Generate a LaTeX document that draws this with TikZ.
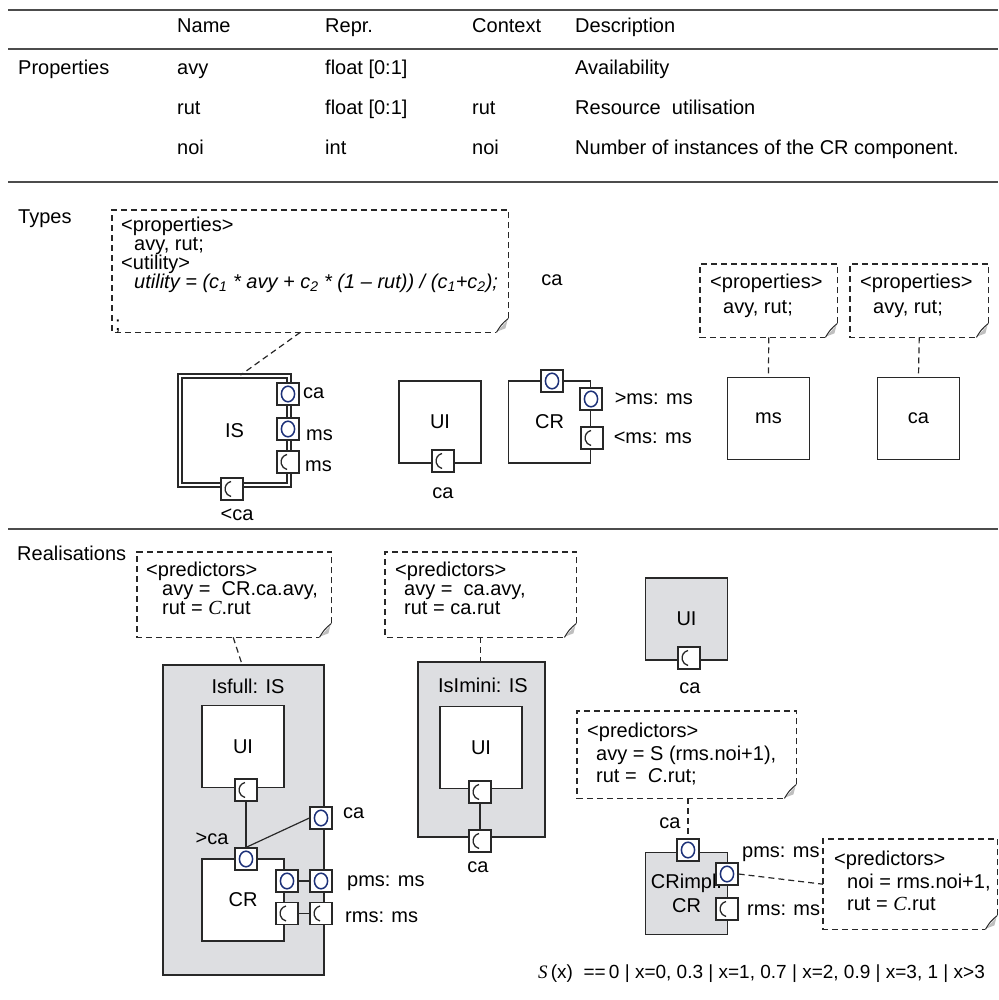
\documentclass[tikz,border=0pt]{standalone}
\usepackage{fontspec}
\setmainfont{Liberation Sans}
\newfontfamily\timesfont{Liberation Serif}
\usetikzlibrary{positioning}
\definecolor{portblue}{RGB}{28,48,120}
\definecolor{realgray}{RGB}{221,222,225}
\definecolor{linegray}{RGB}{40,40,40}
\tikzstyle{comp} = [draw=linegray, line width=1.4pt, fill=white, minimum width=82pt, minimum height=82pt, inner sep=0pt]
\tikzstyle{realcomp} = [comp, fill=realgray]
\tikzstyle{port} = [draw=linegray, line width=1.2pt, fill=white, minimum size=22pt, inner sep=0pt]
\tikzstyle{prov} = [port, path picture={\draw[portblue, line width=1.5pt] (path picture bounding box.center) ellipse (6.6pt and 7.8pt);}]
\tikzstyle{req} = [port, path picture={\draw[line width=1.3pt] ([shift={(-1pt,7.5pt)}]path picture bounding box.center) arc[start angle=103, end angle=257, radius=7.7pt];}]
\tikzstyle{link} = [draw=linegray, line width=1.2pt, dash pattern=on 6pt off 4pt]
\tikzstyle{wire} = [draw=linegray, line width=1.2pt]
\tikzstyle{tablerule} = [draw=black!70, line width=2pt]
\tikzstyle{notearea} = [inner sep=0pt, anchor=north west]
\tikzstyle{notetext} = [anchor=north west, align=left, inner sep=0pt]
\tikzstyle{lbl} = [inner sep=0pt, text height=14pt, text depth=4pt]
\newcommand{\notefont}[1]{\fontsize{20}{#1}\selectfont\lineskiplimit=-20pt}
\newcommand{\noteframe}[1]{%
  \draw[link] ([yshift=14pt]#1.south east) |- (#1.north west) |- ([xshift=-12pt]#1.south east);
  \fill[black!25] ([shift={(-11pt,1pt)}]#1.south east) -- ([shift={(-1pt,12pt)}]#1.south east) -- ([shift={(-3pt,4pt)}]#1.south east) -- cycle;
  \draw[linegray, line width=1pt] ([xshift=-12pt]#1.south east) .. controls ([shift={(-7pt,8pt)}]#1.south east) .. ([yshift=14pt]#1.south east);
}

\begin{document}
\begin{tikzpicture}[x=1pt, y=1pt, every node/.style={font=\fontsize{20}{22}\selectfont}]
    \useasboundingbox (0,0) rectangle (998,-1000);

    % Table of properties
    \draw[tablerule] (8,-10) -- (998,-10);
    \draw[tablerule] (8,-49) -- (998,-49);
    \draw[tablerule] (8,-182) -- (998,-182);
    \node[lbl, anchor=west] (hName) at (177,-28) {Name};
    \node[lbl, anchor=west] (hRepr) at (325,-28) {Repr.};
    \node[lbl, anchor=west] (hCtx) at (472,-28) {Context};
    \node[lbl, anchor=west] (hDesc) at (575,-28) {Description};
    \node[lbl, anchor=west] (props) at (18,-70) {Properties};
    \node[lbl, anchor=west] (avyName) at (177,-70) {avy};
    \node[lbl, anchor=west] (avyRepr) at (325,-70) {float [0:1]};
    \node[lbl, anchor=west] (avyDesc) at (575,-70) {Availability};
    \node[lbl, anchor=west] (rutName) at (177,-110) {rut};
    \node[lbl, anchor=west] (rutRepr) at (325,-110) {float [0:1]};
    \node[lbl, anchor=west] (rutCtx) at (472,-110) {rut};
    \node[lbl, anchor=west] (rutDesc) at (575,-110) {Resource \ utilisation};
    \node[lbl, anchor=west] (noiName) at (177,-150) {noi};
    \node[lbl, anchor=west] (noiRepr) at (325,-150) {int};
    \node[lbl, anchor=west] (noiCtx) at (472,-150) {noi};
    \node[lbl, anchor=west] (noiDesc) at (575,-150) {Number of instances of the CR component.};

    % Types
    \node[lbl, anchor=west] (types) at (18,-218) {Types};
    \node[notearea, minimum width=396pt, minimum height=122pt] (bignote) at (112,-210) {};
    \noteframe{bignote}
    \node[notetext, font=\notefont{19}] (bigtext) at (121,-217) {<properties>\\ \hspace*{13pt}avy, rut;\\ <utility>\\ \hspace*{13pt}\textit{utility = (c\textsubscript{1} * avy + c\textsubscript{2} * (1 -- rut)) / (c\textsubscript{1}+c\textsubscript{2});}};
    \node[lbl] (semi) at (118,-325) {;};
    \node[lbl] (caFree) at (552,-280) {ca};

    \node[comp, double=white, double distance=2.4pt, line width=1.8pt, minimum size=109pt] (IS) at (234.5,-430.5) {IS};
    \node[prov] (ISca) at (288,-394) {};
    \node[prov] (ISms) at (288,-429) {};
    \node[req] (ISrms) at (288,-462) {};
    \node[req] (IScab) at (232,-489) {};
    \node[lbl, anchor=west] at (303,-393) {ca};
    \node[lbl, anchor=west] at (306,-435) {ms};
    \node[lbl, anchor=west] at (305,-466) {ms};
    \node[lbl] at (237,-515) {<ca};
    \draw[link] ([xshift=-10pt]bignote.south) -- ([xshift=6pt]IS.north);

    \node[comp] (tUI) at (440,-422) {UI};
    \node[req] (tUIca) at (443,-461) {};
    \node[lbl, below=12pt of tUIca] {ca};

    \node[comp] (tCR) at (549.5,-422) {CR};
    \node[prov] (tCRca) at (552,-381) {};
    \node[prov] (tCRpms) at (591,-399) {};
    \node[req] (tCRrms) at (592,-438) {};
    \node[lbl, right=12pt of tCRpms] {>ms: ms};
    \node[lbl, right=10pt of tCRrms] {<ms: ms};

    \node[notearea, minimum width=137pt, minimum height=73pt] (msnote) at (700,-264) {};
    \noteframe{msnote}
    \node[notetext, font=\notefont{25}] at (710,-274) {<properties>\\ \hspace*{13pt}avy, rut;};
    \node[comp] (tms) at (768.5,-418.5) {ms};
    \draw[link] (msnote.south) -- (tms.north);

    \node[notearea, minimum width=138pt, minimum height=73pt] (canote) at (850,-264) {};
    \noteframe{canote}
    \node[notetext, font=\notefont{25}] at (860,-274) {<properties>\\ \hspace*{13pt}avy, rut;};
    \node[comp] (tca) at (918.5,-418.5) {ca};
    \draw[link] (canote.south) -- (tca.north);

    \draw[tablerule] (8,-529) -- (998,-529);

    % Realisations
    \node[lbl, anchor=west] (reals) at (17,-555) {Realisations};

    \node[notearea, minimum width=194pt, minimum height=85pt] (noteA) at (137,-552) {};
    \noteframe{noteA}
    \node[notetext, font=\notefont{19}] at (146,-562) {<predictors>\\ \hspace*{16pt}avy = \ CR.ca.avy,\\ \hspace*{16pt}rut = {\timesfont\itshape C}.rut};

    \node[realcomp, minimum width=161pt, minimum height=310pt] (Isfull) at (243.5,-820) {};
    \node[lbl] at (248,-688) {Isfull: IS};
    \node[comp] (fUI) at (243,-746.5) {UI};
    \node[comp] (fCR) at (243,-900) {CR};
    \node[req] (fUIca) at (246,-790) {};
    \node[prov] (fCRca) at (246,-859) {};
    \node[prov] (fca) at (321,-818) {};
    \node[prov] (fCRpms) at (287,-881) {};
    \node[prov] (fpms) at (321,-881) {};
    \node[req] (fCRrms) at (287,-913.5) {};
    \node[req] (frms) at (321,-913.5) {};
    \draw[wire] (fUIca) -- (fCRca);
    \draw[wire] (fCRca.north) -- (fca.west);
    \draw[wire] (fCRpms) -- (fpms);
    \draw[wire] (fCRrms) -- (frms);
    \node[lbl, anchor=west] at (343,-813) {ca};
    \node[lbl] at (212,-839) {>ca};
    \node[lbl, anchor=west] at (347,-881) {pms: ms};
    \node[lbl, anchor=west] at (345,-917) {rms: ms};
    \draw[link] ([xshift=-1pt]noteA.south) -- ([xshift=-1.5pt]Isfull.north);

    \node[notearea, minimum width=191pt, minimum height=85pt] (noteB) at (385,-552) {};
    \noteframe{noteB}
    \node[notetext, font=\notefont{19}] at (395,-562) {<predictors>\\ \hspace*{9pt}avy = \ ca.avy,\\ \hspace*{9pt}rut = ca.rut};

    \node[realcomp, minimum width=127pt, minimum height=175pt] (Ismini) at (481.5,-749.5) {};
    \node[lbl] at (483,-687) {IsImini: IS};
    \node[comp] (mUI) at (481,-747.5) {UI};
    \node[req] (mUIca) at (480,-792) {};
    \node[req] (mca) at (480,-841) {};
    \draw[wire] (mUIca) -- (mca);
    \node[lbl] at (478,-867) {ca};
    \draw[link] (noteB.south) -- (noteB.south |- Ismini.north);

    \node[realcomp] (gUI) at (686.5,-619) {UI};
    \node[req] (gUIca) at (689,-658) {};
    \node[lbl] at (690,-688) {ca};

    \node[notearea, minimum width=219pt, minimum height=87pt] (noteC) at (577,-711) {};
    \noteframe{noteC}
    \node[notetext, font=\notefont{22.5}] at (587,-723) {<predictors>\\ \hspace*{9pt}avy = S (rms.noi+1),\\ \hspace*{9pt}rut = \ \textit{C}.rut;};

    \node[realcomp, align=center, font=\notefont{24}] (cCR) at (686.5,-893.5) {CRimpl:\\CR};
    \node[prov] (cCRca) at (688,-850) {};
    \node[prov] (cpms) at (727,-874) {};
    \node[req] (crms) at (727,-909) {};
    \node[lbl] at (670,-823) {ca};
    \node[lbl, anchor=west] at (742,-852) {pms: ms};
    \node[lbl, anchor=west] at (747,-910) {rms: ms};
    \draw[link] (cCRca.north |- noteC.south) -- (cCRca.north);

    \node[notearea, minimum width=174pt, minimum height=90pt] (noteD) at (823,-839) {};
    \noteframe{noteD}
    \node[notetext, font=\notefont{22.5}] at (834,-851) {<predictors>\\ \hspace*{13pt}noi = rms.noi+1,\\ \hspace*{13pt}rut = {\timesfont\itshape C}.rut};
    \draw[link] (cpms.east) -- (noteD.west);

    \node[lbl, anchor=west, font=\fontsize{19}{21}\selectfont] (Sx) at (538,-973) {{\timesfont\itshape S}\,(x) \ ==\,0 | x=0, 0.3 | x=1, 0.7 | x=2, 0.9 | x=3, 1 | x>3};
\end{tikzpicture}
\end{document}
